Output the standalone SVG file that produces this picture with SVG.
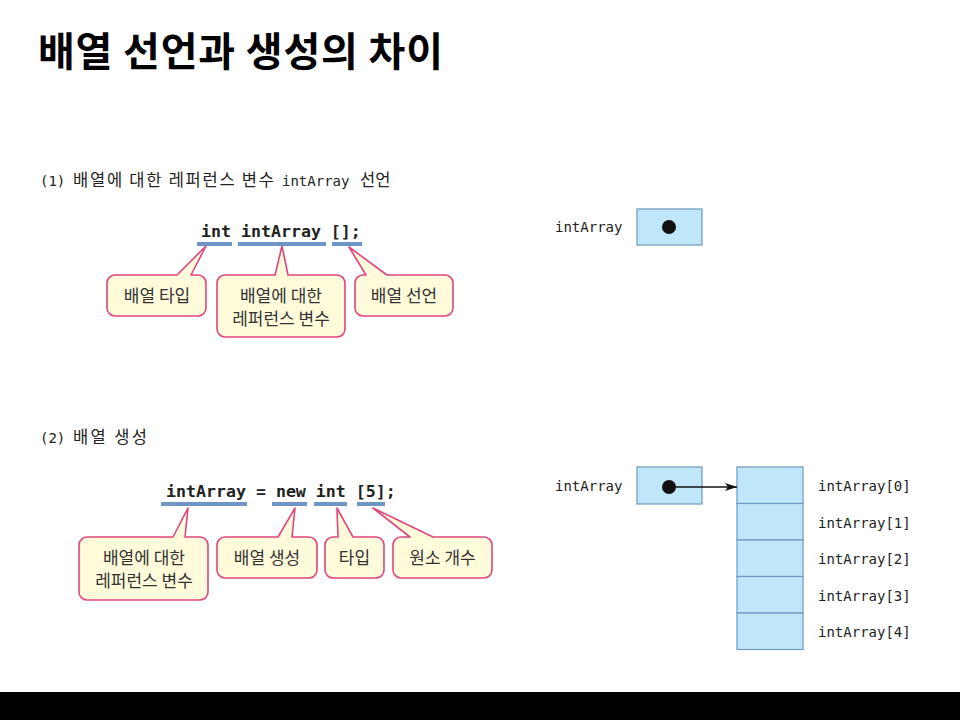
<svg xmlns="http://www.w3.org/2000/svg" width="960" height="720" viewBox="0 0 960 720">
<defs>
<style>
.title{font-family:"Noto Sans CJK KR","Noto Sans",sans-serif;font-weight:bold;font-size:40px;fill:#000}
.sec{font-family:"DejaVu Sans Mono","Noto Sans CJK KR",monospace;font-size:14px;fill:#222}
.seck{font-family:"Noto Sans CJK KR","Noto Sans",sans-serif;font-size:16.5px;fill:#222}
.code{font-family:"DejaVu Sans Mono","Liberation Mono",monospace;font-weight:bold;font-size:16.6px;fill:#222}
.lbl{font-family:"DejaVu Sans Mono","Liberation Mono",monospace;font-size:14px;fill:#222}
.bt{font-family:"Noto Sans CJK KR","Noto Sans",sans-serif;font-size:17px;fill:#333;text-anchor:middle}
.ul{stroke:#6d95c6;stroke-width:4;fill:none}
.bub{fill:#fffbdb;stroke:#e0457f;stroke-width:1.6;stroke-linejoin:round}
.box{fill:#bfe6f9;stroke:#6f98c2;stroke-width:1.2}
</style>
<marker id="ah" viewBox="0 0 12 8" refX="12" refY="4" markerWidth="12" markerHeight="8" markerUnits="userSpaceOnUse" orient="auto">
<path d="M0,0 L12,4 L0,8 L3,4 Z" fill="#111"/>
</marker>
</defs>
<rect x="0" y="0" width="960" height="720" fill="#fff"/>
<text class="title" x="38" y="66" textLength="405" lengthAdjust="spacing">배열 선언과 생성의 차이</text>

<g id="section1">
<text class="sec" x="40" y="186">(1)</text>
<text class="seck" x="73" y="186" textLength="201" lengthAdjust="spacing">배열에 대한 레퍼런스 변수</text>
<text class="sec" x="282" y="186">intArray</text>
<text class="seck" x="360" y="186">선언</text>
<text class="code" x="201" y="237">int intArray [];</text>
<line class="ul" x1="197" y1="244" x2="232" y2="244"/>
<line class="ul" x1="238" y1="244" x2="326" y2="244"/>
<line class="ul" x1="332" y1="244" x2="362" y2="244"/>
</g>

<g id="bubble-type1">
<path class="bub" d="M115,275 L177,275 L206,246 L191,275 L198,275 A8,8 0 0 1 206,283 L206,308 A8,8 0 0 1 198,316 L115,316 A8,8 0 0 1 107,308 L107,283 A8,8 0 0 1 115,275 Z"/>
<text class="bt" x="157" y="302">배열 타입</text>
</g>
<g id="bubble-ref1">
<path class="bub" d="M225,275 L275,275 L282,246 L288,275 L337,275 A8,8 0 0 1 345,283 L345,329 A8,8 0 0 1 337,337 L225,337 A8,8 0 0 1 217,329 L217,283 A8,8 0 0 1 225,275 Z"/>
<text class="bt" x="281" y="302">배열에 대한</text>
<text class="bt" x="281" y="325">레퍼런스 변수</text>
</g>
<g id="bubble-decl1">
<path class="bub" d="M363,275 L366,275 L349,247 L387,275 L445,275 A8,8 0 0 1 453,283 L453,308 A8,8 0 0 1 445,316 L363,316 A8,8 0 0 1 355,308 L355,283 A8,8 0 0 1 363,275 Z"/>
<text class="bt" x="404" y="302">배열 선언</text>
</g>

<g id="var1">
<text class="lbl" x="555" y="232">intArray</text>
<rect class="box" x="637" y="209" width="65" height="36"/>
<circle cx="669" cy="227" r="7" fill="#111"/>
</g>

<g id="section2">
<text class="sec" x="40" y="443">(2)</text>
<text class="seck" x="73" y="443" textLength="74" lengthAdjust="spacing">배열 생성</text>
<text class="code" x="166" y="497">intArray = new int [5];</text>
<line class="ul" x1="161" y1="504" x2="247" y2="504"/>
<line class="ul" x1="272" y1="504" x2="307" y2="504"/>
<line class="ul" x1="314" y1="504" x2="347" y2="504"/>
<line class="ul" x1="357" y1="504" x2="385" y2="504"/>
</g>

<g id="bubble-ref2">
<path class="bub" d="M87,537 L173,537 L188,508 L185,537 L200,537 A8,8 0 0 1 208,545 L208,592 A8,8 0 0 1 200,600 L87,600 A8,8 0 0 1 79,592 L79,545 A8,8 0 0 1 87,537 Z"/>
<text class="bt" x="144" y="564">배열에 대한</text>
<text class="bt" x="144" y="587">레퍼런스 변수</text>
</g>
<g id="bubble-new2">
<path class="bub" d="M225,537 L278,537 L295,508 L292,537 L309,537 A8,8 0 0 1 317,545 L317,570 A8,8 0 0 1 309,578 L225,578 A8,8 0 0 1 217,570 L217,545 A8,8 0 0 1 225,537 Z"/>
<text class="bt" x="267" y="564">배열 생성</text>
</g>
<g id="bubble-type2">
<path class="bub" d="M333,537 L338,537 L337,508 L353,537 L376,537 A8,8 0 0 1 384,545 L384,570 A8,8 0 0 1 376,578 L333,578 A8,8 0 0 1 325,570 L325,545 A8,8 0 0 1 333,537 Z"/>
<text class="bt" x="354.5" y="564">타입</text>
</g>
<g id="bubble-count2">
<path class="bub" d="M401,537 L410,537 L373,508 L433,537 L484,537 A8,8 0 0 1 492,545 L492,570 A8,8 0 0 1 484,578 L401,578 A8,8 0 0 1 393,570 L393,545 A8,8 0 0 1 401,537 Z"/>
<text class="bt" x="442.5" y="564">원소 개수</text>
</g>

<g id="var2">
<text class="lbl" x="555" y="491">intArray</text>
<rect class="box" x="637" y="467" width="65" height="37"/>
<circle cx="669" cy="487" r="7" fill="#111"/>
</g>

<g id="array">
<rect class="box" x="737" y="467" width="66" height="36.5"/>
<rect class="box" x="737" y="503.5" width="66" height="36.5"/>
<rect class="box" x="737" y="540" width="66" height="36.5"/>
<rect class="box" x="737" y="576.5" width="66" height="36.5"/>
<rect class="box" x="737" y="613" width="66" height="36.5"/>
<text class="lbl" x="818" y="491">intArray[0]</text>
<text class="lbl" x="818" y="527.5">intArray[1]</text>
<text class="lbl" x="818" y="564">intArray[2]</text>
<text class="lbl" x="818" y="600.5">intArray[3]</text>
<text class="lbl" x="818" y="637">intArray[4]</text>
</g>

<g id="connectors">
<line x1="669" y1="487" x2="737" y2="487" stroke="#111" stroke-width="1.3" marker-end="url(#ah)"/>
</g>

<rect x="0" y="692" width="960" height="28" fill="#000"/>
</svg>
